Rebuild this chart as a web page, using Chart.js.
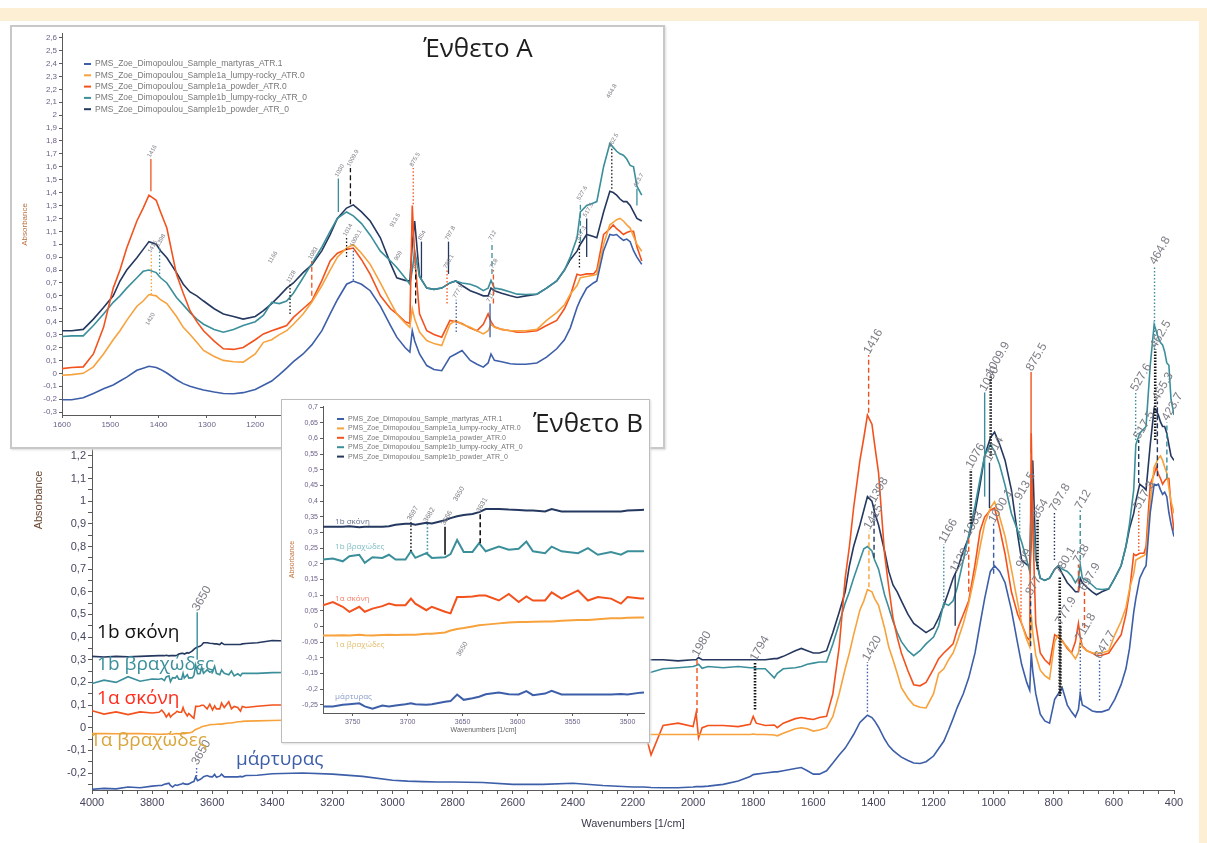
<!DOCTYPE html>
<html>
<head>
<meta charset="utf-8">
<script src="https://cdn.jsdelivr.net/npm/chart.js@4.4.1/dist/chart.umd.min.js"></script>
<style>
  body { margin: 0; width: 1207px; height: 843px; overflow: hidden; position: relative; background: #fff; }
  #band { position: absolute; left: 0; top: 8px; width: 1207px; height: 13px; background: #fcefd3; }
  #strip { position: absolute; left: 1199px; top: 8px; width: 8px; height: 835px; background: #fcefd3; }
  .box { position: absolute; background: #fff; }
  #mainBox { left: 0; top: 0; background: transparent; }
  #aBox { left: 10px; top: 25px; border: 2px solid #c8c8c8; box-shadow: 1px 1px 2px #ddd; }
  #bBox { left: 281px; top: 399px; border: 1px solid #bdbdbd; box-shadow: 1px 1px 2px #ddd; }
</style>
</head>
<body>
<div id="band"></div>
<div id="strip"></div>
<div class="box" id="mainBox"><canvas id="main" width="1199" height="843"></canvas></div>
<div class="box" id="aBox"><canvas id="insetA" width="651" height="420"></canvas></div>
<div class="box" id="bBox"><canvas id="insetB" width="367" height="342"></canvas></div>
<script>
// wavenumbers (1/cm), shared by all five spectra
const wavenumbers = [
  4000, 3960, 3920, 3880, 3840, 3800,
  3777, 3768, 3759, 3753, 3744, 3739, 3732, 3723, 3717, 3711, 3702, 3697, 3693, 3683, 3678, 3666, 3661, 3655, 3649, 3641,
  3635, 3629, 3617, 3608, 3599, 3592, 3586, 3575, 3569, 3560, 3545, 3536, 3527, 3515, 3506, 3500, 3488,
  3450, 3400, 3300, 3200, 3100, 3000, 2950, 2900, 2850, 2800, 2700, 2600, 2500, 2400, 2300, 2200,
  2165, 2140, 2100, 2050, 2000, 1990, 1982, 1970, 1950, 1900, 1850, 1810, 1800, 1790, 1760, 1730, 1720, 1700, 1660, 1640, 1620, 1600,
  1580, 1556, 1535, 1514, 1494, 1480, 1466, 1445, 1432, 1420,
  1405, 1396, 1383, 1363, 1349, 1335, 1321, 1307, 1285, 1266,
  1245, 1225, 1200, 1183, 1166, 1150, 1135, 1121, 1101, 1083,
  1062, 1045, 1030, 1011, 997, 980, 962, 941, 920, 907,
  890, 880, 875, 870, 860, 845, 830, 814, 797, 785,
  772, 755, 741, 728, 718, 712, 705, 690, 672, 658,
  640, 617, 597, 576, 560, 548, 534, 527, 514, 500,
  493, 479, 466, 459, 452, 445, 438, 431, 424, 417,
  410, 400
];

const martyras = [
  -0.272, -0.268, -0.27, -0.262, -0.265, -0.258,
  -0.255, -0.255, -0.25, -0.248, -0.245, -0.255, -0.262, -0.252, -0.255, -0.252, -0.248, -0.245, -0.248, -0.25, -0.248, -0.24, -0.238, -0.217, -0.234, -0.229,
  -0.224, -0.216, -0.211, -0.216, -0.217, -0.206, -0.219, -0.214, -0.205, -0.217, -0.217, -0.217, -0.217, -0.217, -0.215, -0.217, -0.211,
  -0.21, -0.203, -0.2, -0.205, -0.215, -0.232, -0.236, -0.238, -0.24, -0.24, -0.242, -0.25, -0.25, -0.245, -0.255, -0.262,
  -0.262, -0.264, -0.265, -0.265, -0.262, -0.26, -0.26, -0.26, -0.258, -0.25, -0.235, -0.215, -0.207, -0.205, -0.2, -0.195, -0.195, -0.19, -0.18, -0.176, -0.19, -0.205,
  -0.205, -0.19, -0.156, -0.12, -0.09, -0.06, -0.03, 0.023, 0.04, 0.055,
  0.045, 0.03, 0.002, -0.05, -0.08, -0.1, -0.115, -0.13, -0.145, -0.156,
  -0.158, -0.15, -0.125, -0.092, -0.06, -0.01, 0.04, 0.09, 0.15, 0.22,
  0.33, 0.46, 0.57, 0.69, 0.715, 0.69, 0.64, 0.52, 0.37, 0.28,
  0.2, 0.165, 0.33, 0.25, 0.15, 0.06, 0.03, 0.02, 0.125, 0.15,
  0.177, 0.1, 0.07, 0.048, 0.08, 0.15, 0.1, 0.09, 0.074, 0.07,
  0.07, 0.08, 0.125, 0.19, 0.26, 0.35, 0.51, 0.57, 0.66, 0.7,
  0.715, 0.95, 1.075, 1.07, 1.075, 1.05, 1.03, 1.04, 1.02, 0.95,
  0.9, 0.844
];

const lumpy1a = [
  -0.026, -0.026, -0.027, -0.026, -0.026, -0.028,
  -0.029, -0.029, -0.028, -0.029, -0.026, -0.028, -0.029, -0.027, -0.026, -0.027, -0.026, -0.026, -0.026, -0.023, -0.023, -0.019, -0.013, -0.008, -0.005, 0.0,
  0.004, 0.006, 0.01, 0.013, 0.014, 0.014, 0.015, 0.016, 0.016, 0.018, 0.021, 0.021, 0.023, 0.026, 0.026, 0.028, 0.029,
  0.03, 0.032, 0.035, 0.035, 0.035, 0.03, 0.025, 0.025, 0.02, 0.015, 0.005, 0.0, -0.01, -0.015, -0.02, -0.028,
  -0.03, -0.03, -0.03, -0.03, -0.03, -0.03, -0.03, -0.03, -0.03, -0.03, -0.03, -0.03, -0.028, -0.03, -0.03, -0.032, -0.036, -0.025, -0.005, 0.0, -0.005, -0.015,
  -0.01, 0.0, 0.05, 0.15, 0.26, 0.33, 0.41, 0.52, 0.56, 0.61,
  0.6, 0.57, 0.54, 0.44, 0.356, 0.3, 0.24, 0.177, 0.13, 0.1,
  0.09, 0.087, 0.15, 0.24, 0.26, 0.3, 0.33, 0.38, 0.46, 0.55,
  0.68, 0.8, 0.9, 0.97, 0.997, 0.93, 0.844, 0.7, 0.55, 0.46,
  0.39, 0.356, 0.5, 0.42, 0.32, 0.254, 0.23, 0.215, 0.38, 0.41,
  0.38, 0.356, 0.33, 0.305, 0.33, 0.38, 0.356, 0.34, 0.33, 0.33,
  0.33, 0.34, 0.41, 0.47, 0.53, 0.613, 0.68, 0.74, 0.75, 0.76,
  0.767, 1.0, 1.15, 1.17, 1.19, 1.2, 1.18, 1.15, 1.125, 1.06,
  1.0, 0.946
];

const powder1a = [
  0.075, 0.06, 0.07, 0.058, 0.07, 0.065,
  0.068, 0.078, 0.063, 0.047, 0.063, 0.047, 0.057, 0.065, 0.073, 0.068, 0.068, 0.089, 0.073, 0.052, 0.063, 0.047, 0.042, 0.094, 0.094, 0.096,
  0.099, 0.099, 0.083, 0.104, 0.078, 0.096, 0.083, 0.083, 0.109, 0.089, 0.115, 0.083, 0.094, 0.089, 0.073, 0.094, 0.089,
  0.095, 0.1, 0.1, 0.095, 0.09, 0.08, 0.07, 0.075, 0.06, 0.05, 0.04, 0.035, 0.03, 0.025, 0.02, 0.01,
  0.005, -0.12, 0.01, 0.02, 0.005, 0.065, -0.045, 0.0, 0.01, 0.01, 0.005, 0.015, 0.05, 0.02, 0.01, 0.012, 0.0, 0.02, 0.04, 0.045, 0.04, 0.036,
  0.045, 0.05, 0.15, 0.356, 0.66, 0.8, 0.97, 1.18, 1.28, 1.38,
  1.34, 1.25, 1.125, 0.767, 0.62, 0.485, 0.4, 0.33, 0.25, 0.19,
  0.185, 0.2, 0.26, 0.305, 0.33, 0.35, 0.37, 0.433, 0.5, 0.56,
  0.72, 0.87, 0.93, 0.96, 0.97, 0.88, 0.767, 0.6, 0.5, 0.46,
  0.4, 0.385, 1.3, 0.9, 0.46, 0.33, 0.3, 0.28, 0.41, 0.4,
  0.385, 0.35, 0.33, 0.38, 0.46, 0.4, 0.36, 0.34, 0.33, 0.318,
  0.32, 0.33, 0.37, 0.41, 0.5, 0.6, 0.767, 0.76, 0.77, 0.77,
  0.8, 1.075, 1.12, 1.15, 1.12, 1.1, 1.075, 1.09, 1.1, 1.1,
  0.98, 0.87
];

const lumpy1b = [
  0.195, 0.21, 0.2, 0.225, 0.205, 0.215,
  0.214, 0.217, 0.208, 0.224, 0.229, 0.203, 0.221, 0.219, 0.229, 0.214, 0.214, 0.24, 0.219, 0.234, 0.219, 0.221, 0.231, 0.276, 0.238, 0.238,
  0.266, 0.24, 0.255, 0.245, 0.248, 0.271, 0.24, 0.234, 0.255, 0.24, 0.234, 0.25, 0.229, 0.238, 0.229, 0.24, 0.24,
  0.24, 0.243, 0.245, 0.25, 0.25, 0.255, 0.26, 0.265, 0.26, 0.26, 0.255, 0.255, 0.26, 0.26, 0.265, 0.26,
  0.23, 0.245, 0.26, 0.265, 0.27, 0.275, 0.28, 0.262, 0.27, 0.265, 0.27, 0.265, 0.265, 0.26, 0.26, 0.22, 0.24, 0.26, 0.265, 0.27, 0.28, 0.285,
  0.29, 0.29, 0.37, 0.46, 0.55, 0.6, 0.66, 0.74, 0.79, 0.8,
  0.78, 0.74, 0.7, 0.587, 0.53, 0.47, 0.42, 0.38, 0.34, 0.318,
  0.34, 0.37, 0.4, 0.45, 0.55, 0.54, 0.56, 0.62, 0.74, 0.85,
  0.98, 1.1, 1.2, 1.25, 1.22, 1.16, 1.07, 0.946, 0.87, 0.82,
  0.74, 0.69, 0.8, 0.946, 0.75, 0.66, 0.65, 0.66, 0.7, 0.715,
  0.7, 0.69, 0.67, 0.64, 0.66, 0.72, 0.66, 0.65, 0.63, 0.613,
  0.61, 0.613, 0.66, 0.715, 0.8, 0.9, 1.05, 1.25, 1.3, 1.32,
  1.33, 1.6, 1.78, 1.75, 1.72, 1.7, 1.69, 1.66, 1.61, 1.6,
  1.45, 1.38
];

const powder1b = [
  0.315, 0.312, 0.315, 0.313, 0.315, 0.317,
  0.318, 0.318, 0.318, 0.32, 0.317, 0.318, 0.318, 0.318, 0.32, 0.325, 0.328, 0.328, 0.325, 0.331, 0.329, 0.339, 0.346, 0.352, 0.356, 0.359,
  0.365, 0.375, 0.375, 0.373, 0.372, 0.37, 0.37, 0.367, 0.375, 0.367, 0.367, 0.367, 0.367, 0.367, 0.367, 0.37, 0.372,
  0.375, 0.385, 0.38, 0.37, 0.365, 0.36, 0.355, 0.36, 0.35, 0.34, 0.33, 0.325, 0.32, 0.315, 0.31, 0.305,
  0.3, 0.3, 0.3, 0.295, 0.3, 0.3, 0.31, 0.3, 0.3, 0.3, 0.3, 0.3, 0.3, 0.3, 0.3, 0.305, 0.305, 0.315, 0.34, 0.35, 0.34, 0.33,
  0.33, 0.34, 0.42, 0.51, 0.6, 0.715, 0.8, 0.895, 0.96, 1.02,
  1.0, 0.95, 0.895, 0.78, 0.69, 0.63, 0.6, 0.56, 0.5, 0.46,
  0.44, 0.42, 0.44, 0.485, 0.54, 0.6, 0.66, 0.7, 0.78, 0.84,
  0.95, 1.075, 1.2, 1.28, 1.305, 1.25, 1.18, 1.05, 0.85, 0.74,
  0.72, 0.715, 1.0, 1.18, 0.75, 0.66, 0.65, 0.66, 0.7, 0.715,
  0.68, 0.64, 0.62, 0.6, 0.6, 0.66, 0.64, 0.62, 0.6, 0.587,
  0.6, 0.613, 0.66, 0.715, 0.8, 0.88, 0.946, 1.0, 1.075, 1.06,
  1.05, 1.25, 1.41, 1.4, 1.38, 1.35, 1.33, 1.33, 1.3, 1.25,
  1.2, 1.18
];

const seriesValues = [martyras, lumpy1a, powder1a, lumpy1b, powder1b];
const fileNames = [
  "PMS_Zoe_Dimopoulou_Sample_martyras_ATR.1",
  "PMS_Zoe_Dimopoulou_Sample1a_lumpy-rocky_ATR.0",
  "PMS_Zoe_Dimopoulou_Sample1a_powder_ATR.0",
  "PMS_Zoe_Dimopoulou_Sample1b_lumpy-rocky_ATR_0",
  "PMS_Zoe_Dimopoulou_Sample1b_powder_ATR_0",
];
const greekNames = ["μάρτυρας", "1α βραχώδες", "1α σκόνη", "1b βραχώδες", "1b σκόνη"];
const colors = ["#3d5ea8", "#f7a23c", "#f3521d", "#3b8f9b", "#25385f"];
const BLACK = "#151515";

// peak marks: [wavenumber, label, top, base, colour index (5 = black)]
const mainPeaks = [
  [3650, "3650", 0.51, 0.30, 3], [3652, "3650", -0.17, -0.215, 0],
  [1987, "1980", 0.31, 0.065, 2], [1794, "1794", 0.29, 0.08, 5],
  [1416, "1416", 1.645, 1.39, 2], [1398, "1398", 0.99, 0.75, 4], [1415, "1415", 0.87, 0.62, 1],
  [1420, "1420", 0.29, 0.07, 0], [1166, "1166", 0.81, 0.53, 3], [1128, "1128", 0.68, 0.45, 4],
  [1083, "1083", 0.84, 0.6, 2], [1076, "1076", 1.14, 0.9, 5], [1030, "1030", 1.48, 1.02, 3],
  [1009.9, "1009.9", 1.55, 1.2, 5], [1014, "1014", 1.17, 0.97, 4], [1000.1, "1000.1", 0.9, 0.68, 0],
  [913.5, "913.5", 1.0, 0.83, 3], [909, "909", 0.7, 0.49, 2], [875.5, "875.5", 1.57, 1.21, 2],
  [877, "877", 0.58, 0.36, 4], [854, "854", 0.92, 0.7, 5], [797.8, "797.8", 0.95, 0.74, 4],
  [780.1, "780.1", 0.67, 0.14, 5], [777.9, "777.9", 0.45, 0.15, 5], [712, "712", 0.96, 0.74, 3],
  [718, "718", 0.72, 0.6, 2], [697.9, "697.9", 0.6, 0.44, 2], [711.8, "711.8", 0.38, 0.12, 0],
  [647.7, "647.7", 0.3, 0.12, 0], [527.6, "527.6", 1.48, 1.27, 3], [517.5, "517.5", 1.27, 1.08, 4],
  [517.3, "517.3", 0.96, 0.78, 2], [464.8, "464.8", 2.04, 1.67, 3], [462.5, "462.5", 1.67, 1.27, 5],
  [455.3, "455.3", 1.44, 1.11, 4], [423.7, "423.7", 1.35, 1.1, 3],
];
const mainPeakLines = ["solid", "dot", "dash", "heavy", "dash", "dash", "dash", "dot", "dot", "solid",
  "dash", "heavy", "solid", "heavy", "solid", "dash", "dot", "dot", "solid", "dash", "heavy", "dot",
  "heavy", "heavy", "dash", "dash", "dash", "dot", "dot", "dot", "dash", "dot", "dot", "heavy", "dash", "dash"];

const insetAPeaks = [
  [1416, "1416", 1.66, 1.41, 2], [1415, "1415", 0.92, 0.61, 1], [1398, "1398", 0.97, 0.77, 3],
  [1420, "1420", 0.36, 0.36, 0], [1128, "1128", 0.69, 0.46, 5], [1166, "1166", 0.84, 0.84, 3],
  [1083, "1083", 0.87, 0.6, 2], [1028, "1030", 1.51, 1.25, 3], [1003, "1009.9", 1.59, 1.31, 5],
  [1011, "1014", 1.05, 0.9, 5], [997, "1000.1", 0.97, 0.72, 0], [873, "875.5", 1.59, 1.31, 2],
  [914, "913.5", 1.12, 1.12, 3], [905, "909", 0.86, 0.86, 2], [868, "877", 0.8, 0.54, 5],
  [856, "854", 1.02, 0.74, 4], [800, "797.8", 1.02, 0.77, 4], [803, "780.1", 0.8, 0.54, 2],
  [784, "777.9", 0.57, 0.32, 0], [710, "712", 1.02, 0.77, 3], [707, "718", 0.8, 0.54, 2],
  [714, "711.8", 0.54, 0.28, 0], [527, "527.6", 1.33, 1.02, 3], [514, "517.5", 1.2, 0.9, 4],
  [529, "517.3", 1.02, 0.82, 5], [462, "462.5", 1.74, 1.43, 5], [466, "464.8", 2.12, 2.12, 3],
  [410, "423.7", 1.43, 1.3, 3],
];
const insetAPeakLines = ["solid", "dot", "dot", "dot", "dot", "dot", "dash", "solid", "dash", "dot",
  "dot", "dot", "dot", "dot", "dash", "solid", "solid", "dot", "dot", "dash", "dash", "solid", "dash",
  "solid", "dot", "dot", "dot", "solid"];

const insetBPeaks = [
  [3697, "3697", 0.333, 0.24, 5], [3682, "3682", 0.328, 0.234, 3], [3666, "3666", 0.318, 0.229, 5],
  [3655, "3650", 0.395, 0.395, 3], [3634, "3631", 0.36, 0.266, 5], [3652, "3650", -0.1, -0.1, 0],
];
const insetBPeakLines = ["dot", "dot", "solid", "dot", "dash", "dot"];

// where the Greek sample names sit, in data units
const mainNameSpots = [[3521, -0.141], [4007, -0.057], [3983, 0.128], [3983, 0.278], [3983, 0.42]];
const mainNameColors = ["#3d5ea8", "#d9a63d", "#ff2d1c", "#3b8f9b", "#111111"];
const insetBNameSpots = [[3766, -0.224], [3766, -0.057], [3766, 0.09], [3766, 0.255], [3766, 0.333]];
const insetBNameColors = ["#8a9cc8", "#e2bd6c", "#f5826a", "#7dbcc4", "#68718c"];

const dashes = { solid: [], dot: [1.5, 2], dash: [5, 3], heavy: [1.5, 1.5] };

function tickText(v, digits) {
  let r = Math.round(v * Math.pow(10, digits)) / Math.pow(10, digits);
  if (Object.is(r, -0)) r = 0;
  return String(r).replace(".", ",");
}

function makeDatasets(width) {
  return seriesValues.map((vals, i) => ({
    label: fileNames[i],
    data: wavenumbers.map((w, j) => ({ x: w, y: vals[j] })),
    borderColor: colors[i],
    borderWidth: width,
    pointRadius: 0,
    tension: 0,
    fill: false,
  }));
}

function overlay(cfg) {
  return {
    id: "overlay",
    afterDatasetsDraw(chart) {
      const ctx = chart.ctx;
      const x = chart.scales.x, y = chart.scales.y;
      ctx.save();
      cfg.peaks.forEach((p, i) => {
        const px = x.getPixelForValue(p[0]);
        const top = y.getPixelForValue(p[2]);
        const base = y.getPixelForValue(p[3]);
        const style = cfg.lines[i];
        if (p[2] !== p[3]) {
          ctx.strokeStyle = p[4] === 5 ? BLACK : colors[p[4]];
          ctx.lineWidth = style === "heavy" ? 2.6 : cfg.lineWidth;
          ctx.setLineDash(dashes[style]);
          ctx.beginPath();
          ctx.moveTo(px, base);
          ctx.lineTo(px, top);
          ctx.stroke();
          ctx.setLineDash([]);
        }
        ctx.save();
        ctx.translate(px - 2, top - 2);
        ctx.rotate(-Math.PI / 3);
        ctx.font = cfg.peakFont;
        ctx.fillStyle = "#7d7d86";
        ctx.textBaseline = "middle";
        ctx.fillText(p[1], 0, 0);
        ctx.restore();
      });
      if (cfg.names) {
        ctx.font = cfg.nameFont;
        ctx.textBaseline = "middle";
        cfg.names.forEach((s, i) => {
          ctx.fillStyle = cfg.nameColors[i];
          ctx.fillText(greekNames[i], x.getPixelForValue(s[0]), y.getPixelForValue(s[1]));
        });
      }
      if (cfg.yTitle) {
        ctx.save();
        ctx.translate(cfg.yTitle.x, cfg.yTitle.y);
        ctx.rotate(-Math.PI / 2);
        ctx.font = "11px 'Liberation Sans', sans-serif";
        ctx.fillStyle = "#6b4a35";
        ctx.textAlign = "center";
        ctx.textBaseline = "middle";
        ctx.fillText(cfg.yTitle.text, 0, 0);
        ctx.restore();
      }
      if (cfg.legend) {
        const L = cfg.legend;
        ctx.font = L.font;
        ctx.textBaseline = "middle";
        fileNames.forEach((n, i) => {
          const ly = L.top + i * L.gap;
          ctx.strokeStyle = colors[i];
          ctx.lineWidth = 2;
          ctx.beginPath();
          ctx.moveTo(L.left, ly);
          ctx.lineTo(L.left + 7, ly);
          ctx.stroke();
          ctx.fillStyle = "#777";
          ctx.fillText(n, L.left + 11, ly);
        });
      }
      if (cfg.title) {
        ctx.font = "26px 'Open Sans', sans-serif";
        ctx.textAlign = "center";
        ctx.textBaseline = "middle";
        const w = ctx.measureText(cfg.title.text).width;
        if (cfg.title.bg) {
          ctx.fillStyle = "#fff";
          ctx.fillRect(cfg.title.x - w / 2 - 3, cfg.title.y - 16, w + 6, 32);
        }
        ctx.fillStyle = "#1e1e1e";
        ctx.fillText(cfg.title.text, cfg.title.x, cfg.title.y);
      }
      ctx.restore();
    },
  };
}

function axis(opts) {
  return {
    type: "linear",
    min: opts.min,
    max: opts.max,
    reverse: !!opts.reverse,
    border: { color: "#5a5a5a", width: 1 },
    grid: { drawOnChartArea: false, tickLength: opts.tickLength, color: "#5a5a5a" },
    ticks: {
      stepSize: opts.step,
      autoSkip: false,
      includeBounds: false,
      maxRotation: 0,
      padding: 2,
      color: opts.tickColor,
      font: { size: opts.fontSize, family: "'Liberation Sans Narrow', 'Liberation Sans', sans-serif" },
      callback: opts.callback,
    },
    title: {
      display: opts.title !== "",
      text: opts.title,
      color: opts.titleColor,
      padding: 2,
      font: { size: opts.titleSize, family: "'Liberation Sans', sans-serif" },
    },
    afterFit: opts.fit,
  };
}

Chart.defaults.animation = false;

new Chart(document.getElementById("main"), {
  type: "line",
  data: { datasets: makeDatasets(1.6) },
  options: {
    responsive: false,
    layout: { padding: { left: 30, right: 25, top: 252, bottom: 10 } },
    plugins: { legend: { display: false }, tooltip: { enabled: false } },
    scales: {
      x: axis({
        min: 400, max: 4000, reverse: true, step: 50, tickLength: 4, fontSize: 11,
        tickColor: "#46465e", title: "Wavenumbers [1/cm]", titleColor: "#3a3a4a", titleSize: 11,
        callback: (v) => (v % 200 === 0 ? String(v) : ""),
        fit: (s) => { s.height = 43; },
      }),
      y: axis({
        min: -0.275, max: 2.1, step: 0.05, tickLength: 4, fontSize: 11,
        tickColor: "#46465e", title: "", titleColor: "#6b4a35", titleSize: 11,
        callback: (v) => (Math.abs(v * 10 - Math.round(v * 10)) < 1e-6 ? tickText(v, 1) : ""),
        fit: (s) => { s.width = 62; },
      }),
    },
  },
  plugins: [overlay({
    peaks: mainPeaks, lines: mainPeakLines, lineWidth: 1.4,
    peakFont: "12px 'Liberation Sans', sans-serif",
    names: mainNameSpots, nameColors: mainNameColors,
    nameFont: "19px 'Open Sans', sans-serif",
    yTitle: { text: "Absorbance", x: 39, y: 500 },
  })],
});

new Chart(document.getElementById("insetA"), {
  type: "line",
  data: { datasets: makeDatasets(1.6) },
  options: {
    responsive: false,
    layout: { padding: { left: 6, right: 14, top: 5, bottom: 0 } },
    plugins: { legend: { display: false }, tooltip: { enabled: false } },
    scales: {
      x: axis({
        min: 385, max: 1600, reverse: true, step: 100, tickLength: 3, fontSize: 8,
        tickColor: "#6a5f88", title: "Wavenumbers [1/cm]", titleColor: "#555", titleSize: 8,
        callback: (v) => String(v),
        fit: (s) => { s.height = 32; },
      }),
      y: axis({
        min: -0.323, max: 2.63, step: 0.1, tickLength: 3, fontSize: 8,
        tickColor: "#6a5f88", title: "Absorbance", titleColor: "#b8703e", titleSize: 8,
        callback: (v) => tickText(v, 1),
        fit: (s) => { s.width = 44; },
      }),
    },
  },
  plugins: [overlay({
    peaks: insetAPeaks, lines: insetAPeakLines, lineWidth: 1.3,
    peakFont: "6px 'Liberation Sans', sans-serif",
    legend: { left: 72, top: 37, gap: 11.3, font: "8.5px 'Liberation Sans Narrow', 'Liberation Sans', sans-serif" },
    title: { text: "Ένθετο Α", x: 466, y: 23 },
  })],
});

new Chart(document.getElementById("insetB"), {
  type: "line",
  data: { datasets: makeDatasets(2) },
  options: {
    responsive: false,
    layout: { padding: { left: 4, right: 5, top: 1, bottom: 6 } },
    plugins: { legend: { display: false }, tooltip: { enabled: false } },
    scales: {
      x: axis({
        min: 3485, max: 3777, reverse: true, step: 50, tickLength: 3, fontSize: 7,
        tickColor: "#6a5f88", title: "Wavenumbers [1/cm]", titleColor: "#666", titleSize: 7,
        callback: (v) => String(v),
        fit: (s) => { s.height = 23; },
      }),
      y: axis({
        min: -0.276, max: 0.703, step: 0.05, tickLength: 3, fontSize: 7,
        tickColor: "#6a5f88", title: "Absorbance", titleColor: "#c0703a", titleSize: 7,
        callback: (v) => tickText(v, 2),
        fit: (s) => { s.width = 37; },
      }),
    },
  },
  plugins: [overlay({
    peaks: insetBPeaks, lines: insetBPeakLines, lineWidth: 1.6,
    peakFont: "7px 'Liberation Sans', sans-serif",
    names: insetBNameSpots, nameColors: insetBNameColors,
    nameFont: "8px 'Open Sans', sans-serif",
    legend: { left: 55, top: 19, gap: 9.4, font: "7px 'Liberation Sans Narrow', 'Liberation Sans', sans-serif" },
    title: { text: "Ένθετο Β", x: 306, y: 25, bg: true },
  })],
});
</script>
</body>
</html>
